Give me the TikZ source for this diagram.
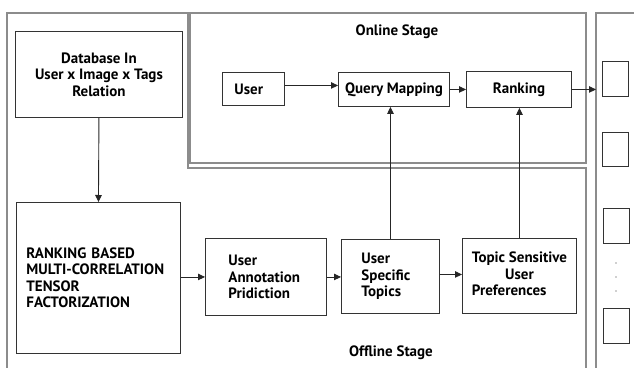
\documentclass[tikz,border=0pt]{standalone}
\usepackage{fontspec}
\setmainfont{PT Sans}
\usetikzlibrary{arrows.meta}
\usetikzlibrary{positioning}

\definecolor{framegray}{HTML}{8C8C8C}
\definecolor{boxgray}{HTML}{333333}

\begin{document}
\begin{tikzpicture}[x=1pt,y=-1pt,
  txt/.style={font=\fontsize{15}{16.5}\selectfont\bfseries,text=black},
  stagebox/.style={draw=framegray,line width=1.3pt},
  blockbox/.style={draw=boxgray,line width=0.9pt,inner sep=0pt,anchor=north west,txt},
  slotbox/.style={draw=boxgray,line width=0.9pt},
  flow/.style={draw=black!85,line width=0.9pt,-{Triangle[length=7pt,width=6.5pt]}}]
\useasboundingbox (0,0) rectangle (634,367);

% stage frames
\draw[stagebox] (7,372) -- (7,13) -- (188,13) -- (188,168) -- (586,168) -- (586,372);
\draw[stagebox] (190,13) rectangle (586,163);
\draw[stagebox] (596,372) -- (596,13) -- (640,13);
\node[txt] (online) at (397,32) {Online Stage};
\node[txt] (offline) at (391,353) {Offline Stage};

% offline blocks
\node[blockbox,minimum width=167pt,minimum height=86pt,align=center] (db) at (15,31)
  {Database In\\User x Image x Tags\\Relation};
\node[blockbox,minimum height=151pt,text width=144pt,inner xsep=10pt,align=left] (rbm) at (16,202)
  {RANKING BASED\\MULTI-CORRELATION\\TENSOR\\FACTORIZATION};
\node[blockbox,minimum height=77pt,text width=75pt,inner xsep=23pt,align=left] (uap) at (205,238)
  {User\\Annotation\\Pridiction};
\node[blockbox,minimum height=74pt,text width=58pt,inner xsep=20pt,align=left] (ust) at (341,239)
  {User\\Specific\\Topics};
\node[blockbox,minimum width=114pt,minimum height=75pt] (tsu) at (462,238)
  {\begin{tabular}{@{}l@{}}Topic Sensitive\\\multicolumn{1}{@{}c@{}}{User}\\Preferences\end{tabular}};

% online blocks
\node[blockbox,minimum height=33pt,text width=38pt,inner xsep=12pt,align=left] (user) at (222,72) {User};
\node[blockbox,minimum width=111pt,minimum height=34pt] (qm) at (338,72) {Query Mapping};
\node[blockbox,minimum width=105pt,minimum height=36pt] (rank) at (466,71) {Ranking};

% result slots
\draw[slotbox] (602,61) rectangle (628,96);
\draw[slotbox] (602,132) rectangle (628,166);
\draw[slotbox] (603,208) rectangle (629,243);
\draw[slotbox] (603,308) rectangle (629,343);
\foreach \y in {263,277,291}
  \fill[boxgray] (616,\y) circle (0.6pt);
\coordinate (results) at (596,89);

% connectors
\draw[flow] (db.south) -- (rbm.north);
\draw[flow] (rbm.east |- uap.west) -- (uap.west);
\draw[flow] (uap.east) -- (uap.east -| ust.west);
\draw[flow] ([yshift=2pt]ust.east) -- ([yshift=2pt]ust.east -| tsu.west);
\draw[flow] ([yshift=3.5pt]user.east) -- ([yshift=3.5pt]user.east -| qm.west);
\draw[flow] (qm.east) -- (qm.east -| rank.west);
\draw[flow] (rank.east) -- (rank.east -| results);
\draw[flow] (ust.north) -- (ust.north |- qm.south);
\draw[flow] (tsu.north) -- (tsu.north |- rank.south);
\end{tikzpicture}
\end{document}
